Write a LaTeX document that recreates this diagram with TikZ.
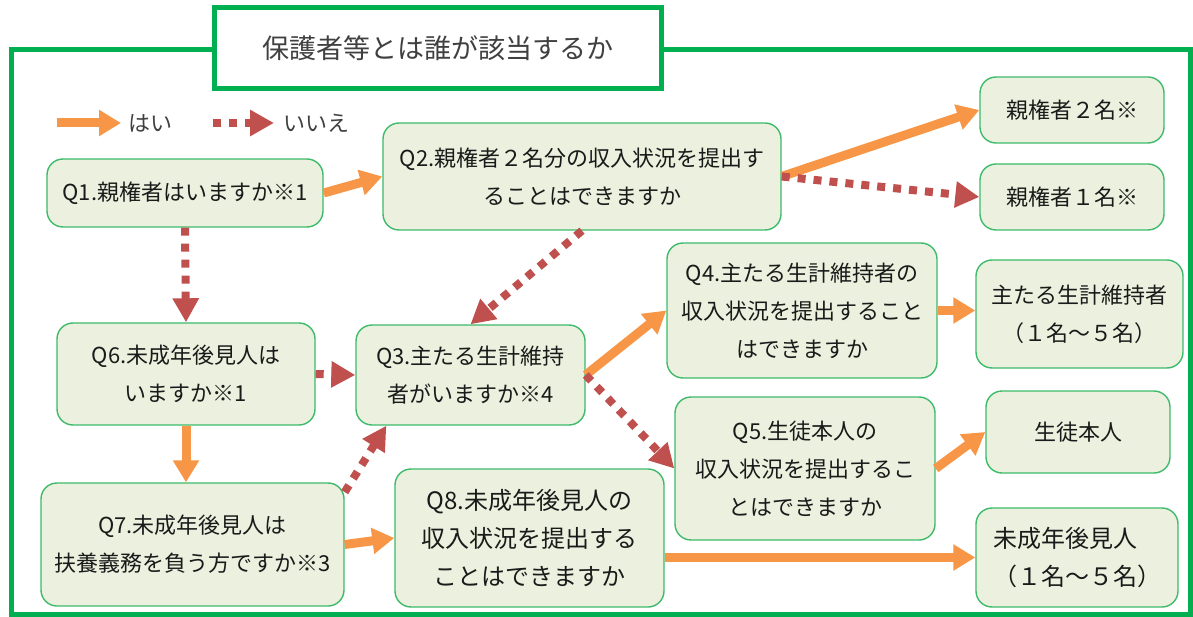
\documentclass[tikz,border=0pt]{standalone}
\usepackage{fontspec}
\setmainfont{Noto Sans CJK JP}
\usetikzlibrary{arrows.meta}
\definecolor{frameG}{HTML}{00B050}
\definecolor{boxG}{HTML}{3DBB6A}
\definecolor{boxF}{HTML}{EBF1DE}
\definecolor{yesC}{HTML}{F79646}
\definecolor{noC}{HTML}{C0504D}
\definecolor{txtC}{HTML}{1A1A1A}
\definecolor{titC}{HTML}{404040}
\begin{document}
\begin{tikzpicture}[x=1pt,y=-1pt,
 box/.style={draw=boxG, fill=boxF, line width=1.4pt, rounded corners=16pt, align=center, inner sep=0pt, text=txtC, font=\fontsize{22}{38}\selectfont},
 bigtext/.style={font=\fontsize{24}{38}\selectfont},
 yes/.style={draw=yesC, line width=9pt, -{Triangle[length=22pt,width=25pt]}},
 no/.style={draw=noC, line width=8pt, dash pattern=on 8pt off 8pt, -{Triangle[length=24pt,width=25pt]}},
 lbl/.style={anchor=west, inner sep=0pt, text=titC, font=\fontsize{22}{26}\selectfont}]
\useasboundingbox (0,0) rectangle (1193,617);

% outer frame
\draw[frameG, line width=5pt] (214,49.5) -- (11,49.5) -- (11,614.5) -- (1190.5,614.5) -- (1190.5,49.5) -- (661.5,49.5);
\node[draw=frameG, line width=5pt, fill=white, minimum width=447.5pt, minimum height=81.5pt, inner sep=0pt, text=titC, font=\fontsize{27}{30}\selectfont] (title) at (437.75,48.25) {保護者等とは誰が該当するか};

% legend
\coordinate (ya) at (57,123); \coordinate (yb) at (121,123);
\draw[yes] (ya) -- (yb);
\node[lbl] (yl) at (128,123) {はい};
\coordinate (na) at (213,123); \coordinate (nb) at (274,123);
\draw[no] (na) -- (nb);
\node[lbl] (nl) at (283,123) {いいえ};

% boxes
\node[box, minimum width=276pt, minimum height=68pt] (q1) at (185,193) {Q1.親権者はいますか※1};
\node[box, minimum width=398pt, minimum height=107pt] (q2) at (582,176.5) {Q2.親権者２名分の収入状況を提出す\\ることはできますか};
\node[box, minimum width=184pt, minimum height=66pt] (p2) at (1072,110) {親権者２名※};
\node[box, minimum width=184pt, minimum height=66pt] (p1) at (1072,197) {親権者１名※};
\node[box, minimum width=258pt, minimum height=102pt] (q6) at (186,374) {Q6.未成年後見人は\\いますか※1};
\node[box, minimum width=229pt, minimum height=100pt] (q3) at (470.5,375) {Q3.主たる生計維持\\者がいますか※4};
\node[box, minimum width=270pt, minimum height=135pt] (q4) at (802,310.5) {Q4.主たる生計維持者の\\収入状況を提出すること\\はできますか};
\node[box, minimum width=207pt, minimum height=108pt] (m) at (1079.5,314) {主たる生計維持者\\（１名～５名）};
\node[box, minimum width=260pt, minimum height=143pt] (q5) at (805,468.5) {Q5.生徒本人の\\収入状況を提出するこ\\とはできますか};
\node[box, minimum width=184pt, minimum height=82pt] (s) at (1078,432) {生徒本人};
\node[box, minimum width=303pt, minimum height=123pt] (q7) at (192.5,544.5) {Q7.未成年後見人は\\扶養義務を負う方ですか※3};
\node[box, bigtext, minimum width=269pt, minimum height=138pt] (q8) at (529.5,538) {Q8.未成年後見人の\\収入状況を提出する\\ことはできますか};
\node[box, bigtext, align=left, minimum width=202pt, minimum height=99pt] (u) at (1077,557.5) {未成年後見人\\（１名～５名）};

% connectors
\draw[yes] (q1.east) -- (q2.west);
\draw[yes] (q2.east) -- (p2.west);
\draw[no] (q2.east) -- (p1.west);
\draw[no] (q2.south) -- (q3.north);
\draw[no] (q1.south) -- (q6.north);
\draw[no] (q6.east) -- (q3.west);
\draw[yes] (q6.south) -- (q6.south |- q7.north);
\draw[no] (q7.19) -- ([xshift=31pt]q3.south west);
\draw[yes] (q7.east) -- (q8.west);
\draw[yes] (q3.east) -- (q4.west);
\draw[no] (q3.east) -- (q5.west);
\draw[yes] (q4.east) -- (q4.east -| m.west);
\draw[yes] (q5.east) -- (s.west);
\draw[yes] (q8.east |- u.west) -- (u.west);
\end{tikzpicture}
\end{document}
